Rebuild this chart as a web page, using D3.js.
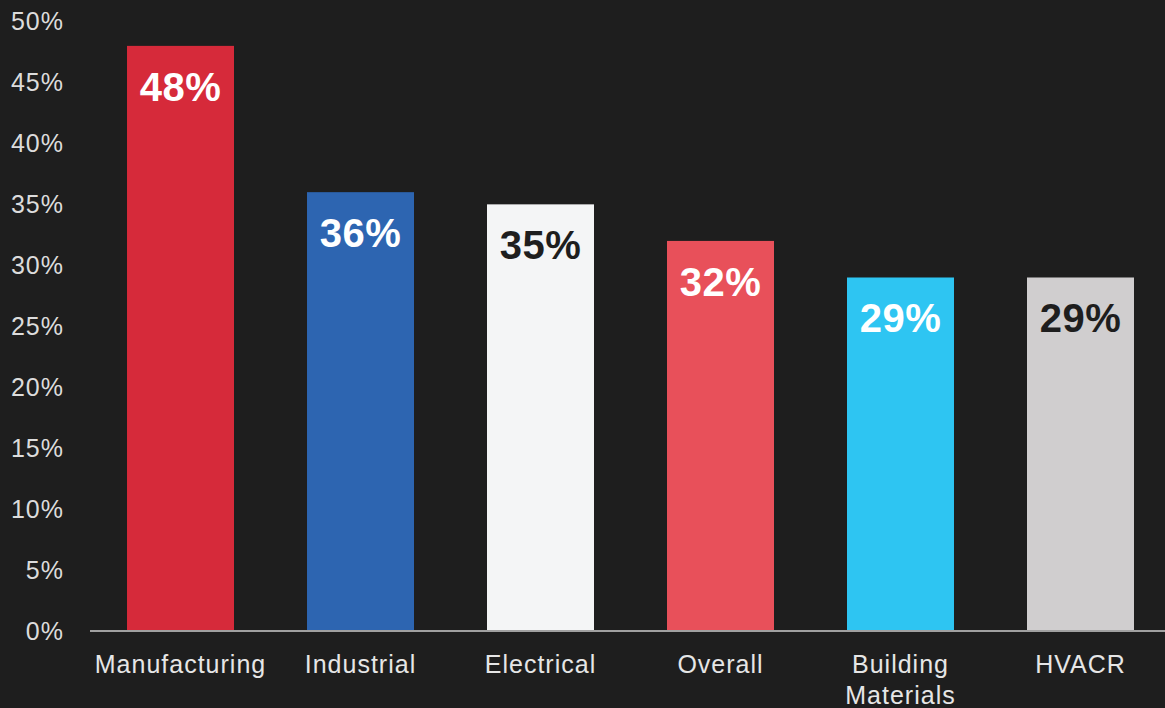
<!DOCTYPE html>
<html>
<head>
<meta charset="utf-8">
<script src="https://cdn.jsdelivr.net/npm/d3@7/dist/d3.min.js"></script>
<style>
  html, body { margin: 0; padding: 0; background: #1e1e1e; }
  svg { display: block; }
  text { font-family: "Helvetica Neue", Helvetica, Arial, "Liberation Sans", sans-serif; }
</style>
</head>
<body>
<svg id="chart" width="1165" height="708"></svg>
<script>
// Share of respondents by segment
const categories = ["Manufacturing", "Industrial", "Electrical", "Overall", "Building Materials", "HVACR"];
const values = [48, 36, 35, 32, 29, 29];
const barColors = ["#d62a3a", "#2d65b1", "#f4f5f6", "#e8505a", "#2ec5f2", "#d0cecf"];
const labelColors = ["#ffffff", "#ffffff", "#1e1e1e", "#ffffff", "#ffffff", "#1e1e1e"];
const yTicks = [0, 5, 10, 15, 20, 25, 30, 35, 40, 45, 50];

const W = 1165, H = 708;
const svg = d3.select("#chart");

svg.append("rect").attr("width", W).attr("height", H).attr("fill", "#1e1e1e");

const x = d3.scaleBand()
  .domain(categories)
  .range([90, 1171])
  .paddingInner(0.4056)
  .paddingOuter(0.2056);

const y = d3.scaleLinear()
  .domain([0, 50])
  .range([631, 21.5]);

// y tick labels (no tick marks or line)
svg.append("g")
  .selectAll("text")
  .data(yTicks)
  .join("text")
  .attr("x", 64)
  .attr("y", d => y(d))
  .attr("dy", "0.35em")
  .attr("text-anchor", "end")
  .attr("fill", "#dcdcdc")
  .attr("font-size", 25)
  .attr("letter-spacing", 1)
  .text(d => d + "%");

// bars
const data = categories.map((c, i) => ({ c, v: values[i], fill: barColors[i], lc: labelColors[i] }));

svg.append("g")
  .selectAll("rect")
  .data(data)
  .join("rect")
  .attr("x", d => x(d.c))
  .attr("y", d => y(d.v))
  .attr("width", x.bandwidth())
  .attr("height", d => y(0) - y(d.v))
  .attr("fill", d => d.fill);

// value labels inside bar tops
svg.append("g")
  .selectAll("text")
  .data(data)
  .join("text")
  .attr("x", d => x(d.c) + x.bandwidth() / 2)
  .attr("y", d => y(d.v) + 55)
  .attr("text-anchor", "middle")
  .attr("fill", d => d.lc)
  .attr("font-size", 40)
  .attr("font-weight", "bold")
  .attr("letter-spacing", 0.5)
  .text(d => d.v + "%");

// baseline
svg.append("line")
  .attr("x1", 90).attr("x2", W)
  .attr("y1", y(0)).attr("y2", y(0))
  .attr("stroke", "#a0a0a0")
  .attr("stroke-width", 2);

// category labels, wrapping two-word names
const xl = svg.append("g")
  .selectAll("text")
  .data(categories)
  .join("text")
  .attr("x", d => x(d) + x.bandwidth() / 2)
  .attr("y", 673)
  .attr("text-anchor", "middle")
  .attr("fill", "#e6e6e6")
  .attr("font-size", 25)
  .attr("letter-spacing", 1);

xl.each(function(d) {
  const words = d.split(" ");
  const t = d3.select(this);
  if (words.length > 1) {
    words.forEach((w, i) => {
      t.append("tspan")
        .attr("x", x(d) + x.bandwidth() / 2)
        .attr("dy", i === 0 ? 0 : 31)
        .text(w);
    });
  } else {
    t.text(d);
  }
});
</script>
</body>
</html>
